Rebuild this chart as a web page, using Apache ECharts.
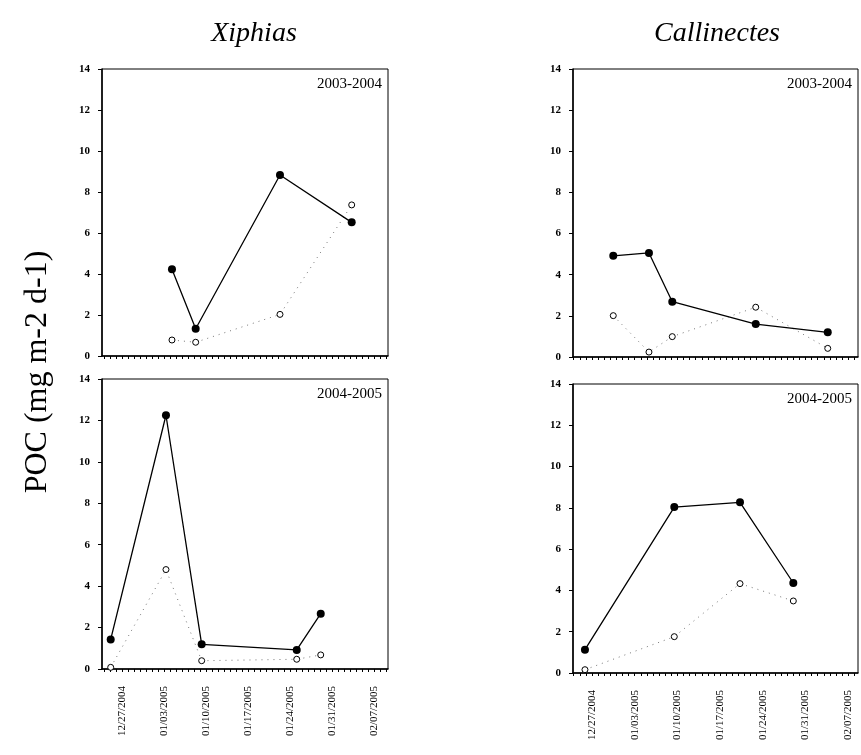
<!DOCTYPE html>
<html>
<head>
<meta charset="utf-8">
<script src="https://cdn.jsdelivr.net/npm/echarts@6/dist/echarts.min.js"></script>
<style>
html,body{margin:0;padding:0;background:#fff;}
#chart{width:861px;height:755px;}
</style>
</head>
<body>
<div id="chart"></div>
<script>
// ---- data (x = days since 12/27/2004) ----
const tickLabels = ['12/27/2004','01/03/2005','01/10/2005','01/17/2005','01/24/2005','01/31/2005','02/07/2005'];
const tickDays = [0, 7, 14, 21, 28, 35, 42];

const xiphias0304Days   = [8.33, 12.28, 26.33, 38.28];
const xiphias0304Filled = [4.23, 1.33, 8.83, 6.52];
const xiphias0304Open   = [0.78, 0.67, 2.03, 7.37];

const xiphias0405Days   = [-1.88, 7.33, 13.28, 29.12, 33.12];
const xiphias0405Filled = [1.43, 12.25, 1.19, 0.92, 2.67];
const xiphias0405Open   = [0.08, 4.8, 0.4, 0.47, 0.68];

const callin0304Days   = [3.49, 9.34, 13.16, 26.84, 38.64];
const callin0304Filled = [4.92, 5.06, 2.69, 1.6, 1.2];
const callin0304Open   = [2.01, 0.24, 0.99, 2.42, 0.42];

const callin0405Days   = [-1.15, 13.49, 24.26, 33.0];
const callin0405Filled = [1.13, 8.04, 8.27, 4.36];
const callin0405Open   = [0.16, 1.76, 4.33, 3.49];

const panelTitles = ['2003-2004', '2004-2005', '2003-2004', '2004-2005'];
const speciesTitles = ['Xiphias', 'Callinectes'];
const yAxisTitle = 'POC (mg m-2 d-1)';

// ---- layout ----
const SERIF = '"Liberation Serif","DejaVu Serif",serif';
const grids = [
  {left:102, top:69,  width:286, height:287},
  {left:102, top:379, width:286, height:290},
  {left:573, top:69,  width:285, height:288},
  {left:573, top:384, width:285, height:289}
];
const xRanges = [[-3.33,44.33],[-3.33,44.33],[-3.11,43.6],[-3.11,43.6]];
const panels = [
  [xiphias0304Days, xiphias0304Filled, xiphias0304Open],
  [xiphias0405Days, xiphias0405Filled, xiphias0405Open],
  [callin0304Days, callin0304Filled, callin0304Open],
  [callin0405Days, callin0405Filled, callin0405Open]
];

function ints(a,b){const r=[];for(let i=Math.ceil(a);i<=Math.floor(b);i++)r.push(i);return r;}
function pairs(xs, ys){return xs.map((x,i)=>[x, ys[i]]);}

const option = {
  animation:false,
  backgroundColor:'#fff',
  grid: grids.map(g=>Object.assign({show:true, borderColor:'#000', borderWidth:1, backgroundColor:'transparent'}, g)),
  xAxis: grids.map((g,i)=>({
    type:'value', gridIndex:i, min:xRanges[i][0], max:xRanges[i][1],
    axisLine:{show:true, onZero:false, lineStyle:{color:'#000', width:1.5}},
    axisTick:{show:true, customValues: ints(xRanges[i][0], xRanges[i][1]), length:3, lineStyle:{color:'#000', width:1}},
    splitLine:{show:false},
    axisLabel:{
      show: (i===1 || i===3),
      customValues: tickDays,
      rotate:90, margin:17,
      fontFamily:SERIF, fontSize:11, color:'#000',
      formatter:(v)=>{const k=tickDays.indexOf(Math.round(v)); return k>=0?tickLabels[k]:'';}
    }
  })),
  yAxis: grids.map((g,i)=>({
    type:'value', gridIndex:i, min:0, max:14, interval:2,
    axisLine:{show:true, onZero:false, lineStyle:{color:'#000', width:1.5}},
    axisTick:{show:true, length:4, lineStyle:{color:'#000'}},
    splitLine:{show:false},
    axisLabel:{fontFamily:SERIF, fontSize:11, fontWeight:'bold', color:'#000', margin:12}
  })),
  series: [],
  graphic: []
};

panels.forEach((p,i)=>{
  option.series.push({
    type:'line', xAxisIndex:i, yAxisIndex:i, data:pairs(p[0], p[2]),
    symbol:'circle', symbolSize:6,
    itemStyle:{color:'#fff', borderColor:'#000', borderWidth:1},
    lineStyle:{color:'#777', width:1, type:[1,5]}, z:2
  });
  option.series.push({
    type:'line', xAxisIndex:i, yAxisIndex:i, data:pairs(p[0], p[1]),
    symbol:'circle', symbolSize:8,
    itemStyle:{color:'#000', borderColor:'#000', borderWidth:0},
    lineStyle:{color:'#000', width:1.3}, z:3
  });
  const g = grids[i];
  option.graphic.push({
    type:'text', x: g.left + g.width - 6, y: g.top + 8,
    style:{text:panelTitles[i], fontFamily:SERIF, fontSize:15, fill:'#000', align:'right', verticalAlign:'top'}
  });
});

option.graphic.push(
  {type:'text', x:254, y:34, style:{text:speciesTitles[0], fontFamily:SERIF, fontStyle:'italic', fontSize:28, fill:'#000', align:'center', verticalAlign:'middle'}},
  {type:'text', x:717, y:34, style:{text:speciesTitles[1], fontFamily:SERIF, fontStyle:'italic', fontSize:28, fill:'#000', align:'center', verticalAlign:'middle'}},
  {type:'text', x:38, y:372, rotation:Math.PI/2, style:{text:yAxisTitle, fontFamily:SERIF, fontSize:32, fill:'#000', align:'center', verticalAlign:'middle'}}
);

const chart = echarts.init(document.getElementById('chart'), null, {renderer:'canvas'});
chart.setOption(option);
</script>
</body>
</html>
